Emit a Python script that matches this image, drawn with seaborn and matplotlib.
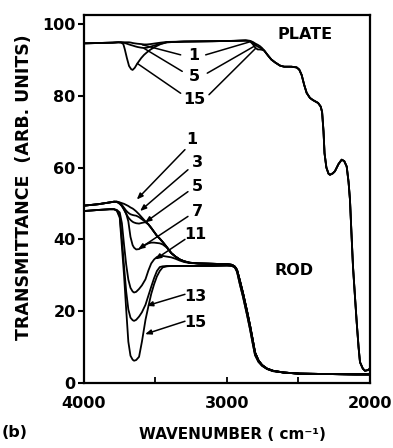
import matplotlib
matplotlib.use("Agg")
import matplotlib.pyplot as plt
import seaborn as sns
import pandas as pd

# ---------------- data ----------------
# PLATE spectra: region where the curves differ
plate_head_wn = [4000, 3900, 3800, 3760, 3740, 3725, 3715, 3700, 3685, 3670, 3660,
                 3645, 3627, 3600, 3580, 3560, 3534, 3500, 3464, 3420, 3300, 3100,
                 2950, 2870, 2840, 2820, 2800, 2785, 2769, 2755, 2740]
plate_1 = [94.6, 94.7, 94.8, 94.9, 94.9, 94.9, 94.9, 94.9, 94.9, 94.8, 94.7,
           94.6, 94.5, 94.4, 94.3, 94.3, 94.4, 94.6, 94.8, 95.0, 95.1, 95.2,
           95.3, 95.4, 95.3, 95.0, 94.5, 94.2, 93.8, 93.3, 92.6]
plate_5 = [94.6, 94.7, 94.8, 94.9, 94.9, 94.8, 94.7, 94.5, 94.3, 94.1, 94.0,
           93.8, 93.6, 93.4, 93.3, 93.4, 93.7, 94.1, 94.5, 94.9, 95.1, 95.2,
           95.3, 95.4, 95.3, 94.8, 94.1, 93.7, 93.4, 93.1, 92.6]
plate_15 = [94.6, 94.7, 94.8, 94.9, 94.8, 94.4, 93.0, 90.5, 88.3, 87.4, 87.2,
            87.8, 89.0, 90.5, 91.4, 92.1, 92.9, 93.7, 94.4, 94.9, 95.1, 95.2,
            95.3, 95.4, 95.2, 94.4, 93.3, 92.9, 92.9, 92.8, 92.6]
# PLATE common part
plate_tail_wn = [2713, 2690, 2664, 2629, 2600, 2550, 2513, 2495, 2478, 2460, 2443,
                 2420, 2399, 2363, 2345, 2335, 2325, 2318, 2305, 2290, 2280, 2260,
                 2245, 2220, 2198, 2180, 2163, 2150, 2140, 2130, 2119, 2105, 2093,
                 2080, 2070, 2050, 2035, 2015, 2000]
plate_tail = [91.2, 90.1, 89.3, 88.4, 88.1, 88.1, 87.9, 87.3, 85.8, 83.0, 80.8,
              79.4, 78.8, 78.0, 77.0, 75.5, 70.0, 64.0, 60.0, 58.3, 58.0, 58.4,
              59.0, 61.0, 62.2, 61.8, 60.3, 56.0, 51.0, 42.0, 32.5, 24.0, 16.9,
              10.0, 5.8, 4.0, 3.4, 3.6, 4.0]

# ROD spectra: region where the curves differ
rod_head_wn = [4000, 3900, 3820, 3790, 3770, 3750, 3735, 3720, 3705, 3690, 3675,
               3660, 3650, 3635, 3615, 3595, 3570, 3550, 3530, 3510, 3490, 3470,
               3450, 3420, 3390, 3360, 3330, 3300, 3260]
rod_1 = [49.4, 49.8, 50.3, 50.5, 50.5, 50.3, 50.1, 49.9, 49.6, 49.3, 48.9,
         48.6, 48.3, 47.8, 47.0, 46.1, 45.0, 44.2, 43.2, 42.1, 41.0, 40.2,
         39.3, 37.8, 36.2, 35.2, 34.4, 33.9, 33.5]
rod_3 = [49.4, 49.8, 50.3, 50.5, 50.5, 50.2, 49.6, 48.8, 48.0, 47.4, 47.0,
         46.8, 46.7, 46.6, 46.2, 45.6, 44.9, 44.2, 43.2, 42.1, 41.0, 40.2,
         39.3, 37.8, 36.2, 35.2, 34.4, 33.9, 33.5]
rod_5 = [49.4, 49.8, 50.3, 50.5, 50.5, 50.0, 49.3, 48.3, 47.1, 46.1, 45.4,
         44.9, 44.7, 44.5, 44.4, 44.6, 44.8, 44.2, 43.2, 42.1, 41.0, 40.2,
         39.3, 37.8, 36.2, 35.2, 34.4, 33.9, 33.5]
rod_7 = [49.4, 49.8, 50.3, 50.5, 50.4, 49.9, 49.3, 48.3, 47.2, 45.0, 40.7,
         38.4, 37.7, 37.2, 37.3, 37.8, 38.5, 38.9, 39.1, 39.1, 39.0, 38.9,
         38.6, 37.7, 36.2, 35.2, 34.4, 33.9, 33.5]
rod_11 = [47.9, 48.2, 48.4, 48.4, 48.2, 47.5, 44.5, 38.5, 33.0, 28.8, 26.5,
          25.5, 25.2, 25.4, 26.2, 27.2, 28.9, 31.3, 33.3, 34.4, 35.1, 35.4,
          35.4, 35.2, 35.0, 34.6, 34.1, 33.7, 33.4]
rod_13 = [47.9, 48.2, 48.4, 48.4, 48.0, 46.5, 40.0, 32.5, 25.5, 20.5, 18.2,
          17.5, 17.3, 17.6, 18.5, 19.7, 21.8, 24.3, 26.8, 29.2, 31.2, 32.3,
          32.5, 32.6, 32.6, 32.6, 32.6, 32.6, 32.6]
rod_15 = [47.9, 48.2, 48.4, 48.4, 48.0, 46.0, 38.0, 30.0, 20.5, 11.5, 7.6,
          6.5, 6.2, 6.4, 7.3, 11.5, 17.6, 21.3, 24.8, 27.5, 29.7, 31.2,
          32.2, 32.5, 32.6, 32.6, 32.6, 32.6, 32.6]
# ROD common part (two slightly different groups)
rod_tail_wn = [3200, 3100, 3000, 2965, 2945, 2930, 2910, 2888, 2860, 2839, 2820,
               2804, 2780, 2755, 2720, 2678, 2600, 2490, 2300, 2100, 2000]
rod_tail_upper = [33.3, 33.2, 33.1, 32.9, 32.4, 31.5, 28.5, 25.0, 20.0, 16.0, 12.0,
                  8.5, 6.3, 5.0, 4.0, 3.4, 2.9, 2.6, 2.5, 2.4, 2.4]
rod_tail_lower = [32.6, 32.6, 32.7, 32.6, 32.2, 31.0, 27.5, 24.0, 19.0, 15.0, 11.0,
                  7.8, 5.9, 4.8, 3.9, 3.3, 2.9, 2.6, 2.5, 2.4, 2.4]

x_ticks = [4000, 3500, 3000, 2500, 2000]
x_ticklabels = ["4000", "", "3000", "", "2000"]
y_ticks = [0, 20, 40, 60, 80, 100]

plate_labels = ["1", "5", "15"]
rod_labels = ["1", "3", "5", "7", "11", "13", "15"]

# ---------------- build long table ----------------
rows = []
for name, head in [("P1", plate_1), ("P5", plate_5), ("P15", plate_15)]:
    for w, t in zip(plate_head_wn + plate_tail_wn, head + plate_tail):
        rows.append((name, w, t))
for name, head, tail in [("R1", rod_1, rod_tail_upper), ("R3", rod_3, rod_tail_upper),
                         ("R5", rod_5, rod_tail_upper), ("R7", rod_7, rod_tail_upper),
                         ("R11", rod_11, rod_tail_upper), ("R13", rod_13, rod_tail_lower),
                         ("R15", rod_15, rod_tail_lower)]:
    for w, t in zip(rod_head_wn + rod_tail_wn, head + tail):
        rows.append((name, w, t))
df = pd.DataFrame(rows, columns=["curve", "wn", "T"])

# ---------------- style ----------------
sns.set_theme(style="ticks")
plt.rcParams["font.family"] = ["DejaVu Sans"]
plt.rcParams["font.weight"] = "bold"
plt.rcParams["axes.edgecolor"] = "black"
plt.rcParams["xtick.color"] = "black"
plt.rcParams["ytick.color"] = "black"
plt.rcParams["text.color"] = "black"
plt.rcParams["axes.labelcolor"] = "black"

W, H = 393, 448
fig = plt.figure(figsize=(W / 100, H / 100), dpi=100)
L, R, T, B = 84, 370, 15, 383
ax = fig.add_axes([L / W, 1 - B / H, (R - L) / W, (B - T) / H])

sns.lineplot(data=df, x="wn", y="T", units="curve", estimator=None, sort=False,
             color="black", linewidth=1.3, legend=False, ax=ax)

ax.set_xlim(4000, 2000)
ax.set_ylim(0, 102.5)
for s in ax.spines.values():
    s.set_linewidth(1.6)
    s.set_visible(True)

FS = 11.5
ax.set_xticks(x_ticks)
ax.set_xticklabels(x_ticklabels)
ax.set_yticks(y_ticks)
ax.tick_params(axis="x", direction="in", length=4, width=1.3, pad=9, labelsize=FS)
ax.tick_params(axis="y", direction="out", length=4, width=1.5, pad=2, labelsize=FS)
for lab in ax.get_xticklabels() + ax.get_yticklabels():
    lab.set_fontweight("bold")

ax.set_xlabel("WAVENUMBER ( cm\u207b\u00b9)", fontsize=11, fontweight="bold")
ax.xaxis.set_label_coords(0.519, -0.141)
ax.xaxis.label.set_va("center")
ax.set_ylabel("TRANSMITTANCE  (ARB. UNITS)", fontsize=12.5, fontweight="bold")
ax.yaxis.set_label_coords(-0.2115, 0.531)
ax.yaxis.label.set_va("center")

fig.text(15 / W, 1 - 432 / H, "(b)", ha="center", va="center", fontsize=FS, fontweight="bold")
ax.text(0.772, 0.948, "PLATE", transform=ax.transAxes, ha="center", va="center",
        fontsize=FS, fontweight="bold")
ax.text(0.733, 0.307, "ROD", transform=ax.transAxes, ha="center", va="center",
        fontsize=FS, fontweight="bold")

line_kw = dict(arrowstyle="-", color="black", lw=1.1, shrinkA=0, shrinkB=0)
arrow_kw = dict(arrowstyle="-|>,head_length=0.3,head_width=0.12", color="black",
                lw=1.1, shrinkA=0, shrinkB=0)

# plate labels with two leader lines each
plate_text_pos = [(3231, 91.1), (3231, 85.4), (3231, 78.9)]
plate_left = [((3324, 91.4), (3592, 94.2)), ((3313, 86.8), (3580, 93.2)), ((3324, 80.7), (3627, 89.0))]
plate_right = [((3149, 91.4), (2834, 95.1)), ((3138, 86.3), (2805, 93.9)), ((3126, 80.3), (2800, 93.2))]
for lab, pos, lft, rgt in zip(plate_labels, plate_text_pos, plate_left, plate_right):
    ax.text(pos[0], pos[1], lab, ha="center", va="center", fontsize=FS, fontweight="bold")
    ax.annotate("", xy=lft[1], xytext=lft[0], arrowprops=line_kw)
    ax.annotate("", xy=rgt[1], xytext=rgt[0], arrowprops=line_kw)

# rod labels with leader arrows
rod_text_pos = [(3245, 67.8), (3210, 61.4), (3210, 54.7), (3210, 47.8), (3224, 41.4), (3224, 24.2), (3224, 16.9)]
rod_lines = [((3294, 65.0), (3631, 51.1)), ((3273, 59.4), (3608, 47.9)), ((3273, 53.3), (3573, 44.7)),
             ((3273, 46.4), (3622, 37.2)), ((3294, 40.0), (3503, 34.4)), ((3294, 24.7), (3562, 21.5)),
             ((3294, 17.2), (3573, 13.6))]
for lab, pos, ln in zip(rod_labels, rod_text_pos, rod_lines):
    ax.text(pos[0], pos[1], lab, ha="center", va="center", fontsize=FS, fontweight="bold")
    ax.annotate("", xy=ln[1], xytext=ln[0], arrowprops=arrow_kw)

fig.savefig("out.png", dpi=100)
